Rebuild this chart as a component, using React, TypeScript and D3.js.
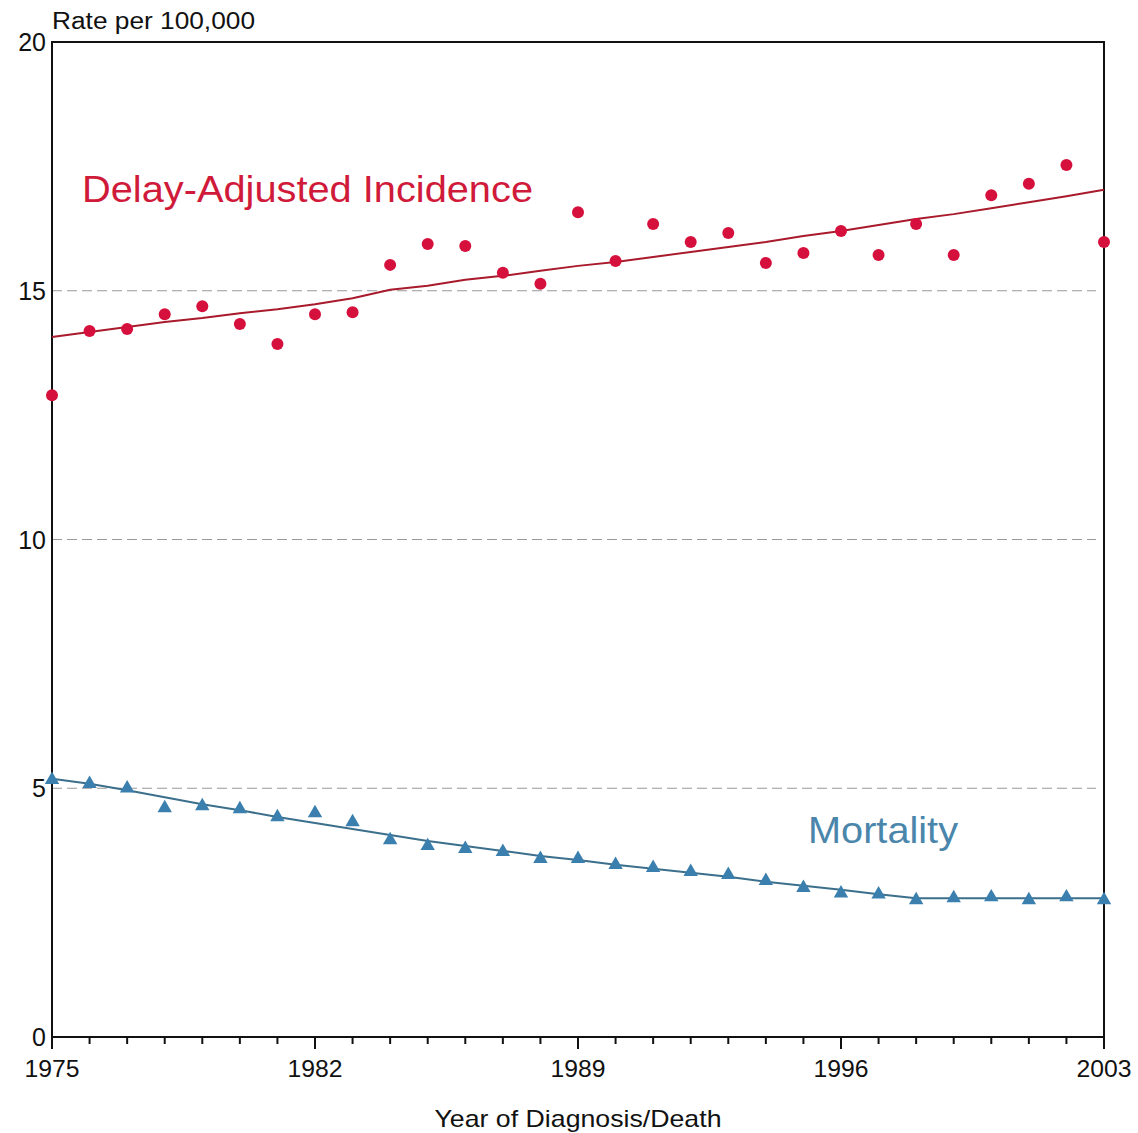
import * as d3 from "d3"

const years = d3.range(1975, 2004)

// observed delay-adjusted incidence rates
const incidence = [
  12.9, 14.19, 14.23, 14.53, 14.69, 14.33, 13.93, 14.53, 14.57, 15.52,
  15.94, 15.9, 15.36, 15.14, 16.58, 15.6, 16.34, 15.98, 16.16, 15.56,
  15.76, 16.2, 15.72, 16.34, 15.72, 16.92, 17.15, 17.53, 15.98,
]
// fitted incidence trend
const incidenceFit = [
  14.07, 14.17, 14.27, 14.37, 14.45, 14.55, 14.63, 14.73, 14.85, 15.02,
  15.1, 15.22, 15.3, 15.4, 15.5, 15.58, 15.68, 15.78, 15.88, 15.98,
  16.1, 16.2, 16.32, 16.44, 16.54, 16.66, 16.78, 16.9, 17.03,
]
// observed mortality rates
const mortality = [
  5.17, 5.09, 5.0, 4.6, 4.64, 4.58, 4.42, 4.5, 4.32, 3.96,
  3.84, 3.78, 3.72, 3.58, 3.58, 3.46, 3.4, 3.32, 3.26, 3.14,
  3.0, 2.89, 2.87, 2.75, 2.79, 2.81, 2.75, 2.81, 2.75,
]
// fitted mortality trend
const mortalityFit = [
  5.19, 5.09, 4.96, 4.82, 4.68, 4.56, 4.42, 4.3, 4.18, 4.06,
  3.94, 3.84, 3.74, 3.64, 3.56, 3.46, 3.38, 3.3, 3.22, 3.12,
  3.04, 2.96, 2.87, 2.79, 2.79, 2.79, 2.79, 2.79, 2.79,
]

const yTicks = [0, 5, 10, 15, 20]
const gridValues = [5, 10, 15]
const xLabels = [1975, 1982, 1989, 1996, 2003]

const W = 1138
const H = 1133
const margin = { top: 42, right: 34, bottom: 96, left: 52 }
const font = "'Liberation Sans', Arial, sans-serif"

export default function App() {
  const x = d3.scaleLinear().domain([1975, 2003]).range([margin.left, W - margin.right])
  const y = d3.scaleLinear().domain([0, 20]).range([H - margin.bottom, margin.top])

  const line = d3
    .line<number>()
    .x((_, i) => x(years[i]))
    .y((d) => y(d))

  const tri = d3.symbol().type(d3.symbolTriangle).size(90)()

  return (
    <svg width={W} height={H} style={{ position: "absolute", left: 0, top: 0, background: "white" }} fontFamily={font}>
      {/* dashed grid lines */}
      {gridValues.map((v) => (
        <line key={v} x1={x(1975)} x2={x(2003) - 8} y1={y(v)} y2={y(v)} stroke="#999" strokeWidth={1.2} strokeDasharray="10,5" />
      ))}

      {/* frame */}
      <rect x={x(1975)} y={y(20)} width={x(2003) - x(1975)} height={y(0) - y(20)} fill="none" stroke="#111" strokeWidth={2} />

      {/* y tick labels */}
      {yTicks.map((v) => (
        <text key={v} x={x(1975) - 6} y={y(v) + 9} textAnchor="end" fontSize={25} fill="#111">
          {v}
        </text>
      ))}
      <text x={x(1975)} y={29} fontSize={23} fill="#111" textLength={203} lengthAdjust="spacingAndGlyphs">Rate per 100,000</text>

      {/* x ticks */}
      {years.map((yr) => {
        const major = xLabels.includes(yr)
        return <line key={yr} x1={x(yr)} x2={x(yr)} y1={y(0)} y2={y(0) + (major ? 12 : 7)} stroke="#111" strokeWidth={2} />
      })}
      {xLabels.map((yr) => (
        <text key={yr} x={x(yr)} y={y(0) + 40} textAnchor="middle" fontSize={24} fill="#111" textLength={55} lengthAdjust="spacingAndGlyphs">
          {yr}
        </text>
      ))}
      <text x={(x(1975) + x(2003)) / 2} y={1127} textAnchor="middle" fontSize={24} fill="#111" textLength={287} lengthAdjust="spacingAndGlyphs">
        Year of Diagnosis/Death
      </text>

      {/* incidence */}
      <path d={line(incidenceFit) ?? ""} fill="none" stroke="#a81a2c" strokeWidth={2} />
      {incidence.map((v, i) => (
        <circle key={i} cx={x(years[i])} cy={y(v)} r={6} fill="#d6103c" />
      ))}
      <text x={82} y={202} fontSize={37} fill="#d01a3a" textLength={451} lengthAdjust="spacingAndGlyphs">Delay-Adjusted Incidence</text>

      {/* mortality */}
      <path d={line(mortalityFit) ?? ""} fill="none" stroke="#3b6f8c" strokeWidth={2} />
      {mortality.map((v, i) => (
        <path key={i} d={tri ?? ""} transform={`translate(${x(years[i])},${y(v)})`} fill="#3a7fae" />
      ))}
      <text x={808} y={843} fontSize={37} fill="#4a86ab" textLength={150} lengthAdjust="spacingAndGlyphs">Mortality</text>
    </svg>
  )
}
